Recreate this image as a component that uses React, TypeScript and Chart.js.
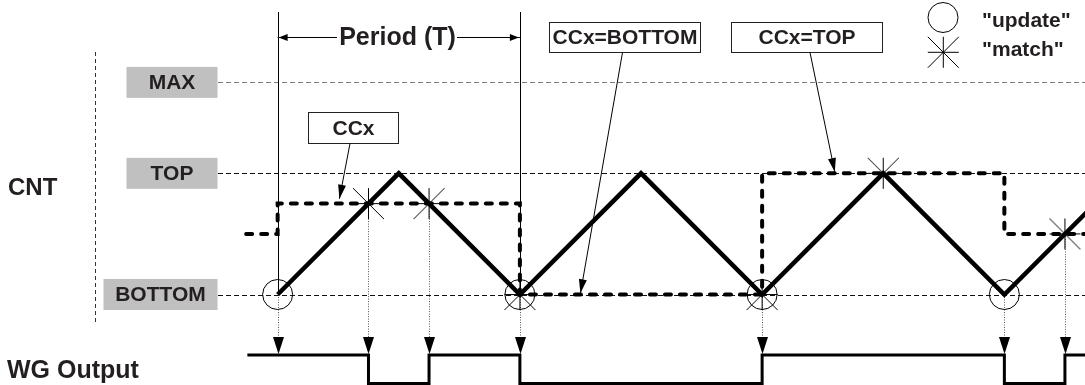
import React, { useEffect, useRef } from "react";
import { Chart, registerables } from "chart.js";

Chart.register(...registerables);

// x axis: time in half-periods (T/2); y axis: counter level (BOTTOM = 0, TOP = 1)
const levelNames = ["MAX", "TOP", "BOTTOM"];
const levelValues = [1.75, 1, 0];

const cntTimes = [0, 1, 2, 3, 4, 5, 6, 7];
const cntValues = [0, 1, 0, 1, 0, 1, 0, 1];

const ccxTimes = [-0.26, 0, 2, 4, 6, 7];
const ccxValues = [0.5, 0.75, 0, 1, 0.5, 0.5];

const updateTimes = [0, 2, 4, 6];
const updateValues = [0, 0, 0, 0];

const matchTimes = [0.75, 1.25, 2, 4, 5, 6.5];
const matchValues = [0.75, 0.75, 0, 0, 1, 0.5];

const wgTimes = [-0.25, 0.75, 1.25, 2, 4, 6, 6.5, 7];
const wgStates = [1, 0, 1, 0, 1, 0, 1, 1];
const wgHigh = -0.5;
const wgLow = -0.734;

const eventTimes = [0, 0.75, 1.25, 2, 4, 6, 6.5];
const eventValues = [0, 0.75, 0.75, 0, 0, 0, 0.5];

const periodStart = 0;
const periodEnd = 2;

const calloutTexts = ["CCx", "CCx=BOTTOM", "CCx=TOP"];
const calloutTipTimes = [0.51, 2.5, 4.6];
const calloutTipValues = [0.79, 0.01, 1.01];

const X_MIN = -2.2922;
const X_MAX = 6.6657;
const Y_MIN = -0.7467;
const Y_MAX = 2.4299;

const TEXT = "#231f20";
const FONT = "'Liberation Sans', Arial, sans-serif";

function makeAsterisk(): HTMLCanvasElement {
  const c = document.createElement("canvas");
  c.width = 33;
  c.height = 33;
  const g = c.getContext("2d")!;
  const m = 16.5;
  const h = 15.5;
  g.strokeStyle = "#000";
  g.lineWidth = 1;
  g.beginPath();
  g.moveTo(m, m - h); g.lineTo(m, m + h);
  g.moveTo(m - h, m); g.lineTo(m + h, m);
  g.moveTo(m - h, m - h); g.lineTo(m + h, m + h);
  g.moveTo(m + h, m - h); g.lineTo(m - h, m + h);
  g.stroke();
  return c;
}

function arrowHead(ctx: CanvasRenderingContext2D, x1: number, y1: number, x2: number, y2: number, len: number, w: number) {
  const a = Math.atan2(y2 - y1, x2 - x1);
  const bx = x2 - Math.cos(a) * len;
  const by = y2 - Math.sin(a) * len;
  const px = -Math.sin(a) * (w / 2);
  const py = Math.cos(a) * (w / 2);
  ctx.beginPath();
  ctx.moveTo(x2, y2);
  ctx.lineTo(bx + px, by + py);
  ctx.lineTo(bx - px, by - py);
  ctx.closePath();
  ctx.fill();
}

const diagramPlugin = {
  id: "diagram",
  beforeDatasetsDraw(chart: any) {
    const ctx: CanvasRenderingContext2D = chart.ctx;
    const xs = chart.scales.x;
    const ys = chart.scales.y;
    const X = (t: number) => xs.getPixelForValue(t);
    const Y = (v: number) => ys.getPixelForValue(v);
    const right = chart.chartArea.right;
    ctx.save();
    // level lines
    levelValues.forEach((v, i) => {
      ctx.strokeStyle = i === 0 ? "#7a7a7a" : "#111";
      ctx.lineWidth = 1;
      ctx.setLineDash([5, 3]);
      ctx.beginPath();
      ctx.moveTo(218, Math.round(Y(v)) + 0.5);
      ctx.lineTo(right, Math.round(Y(v)) + 0.5);
      ctx.stroke();
    });
    // left separator
    ctx.strokeStyle = "#333";
    ctx.setLineDash([4, 3]);
    ctx.beginPath();
    ctx.moveTo(95.5, 52);
    ctx.lineTo(95.5, 324);
    ctx.stroke();
    // period marker lines
    ctx.setLineDash([]);
    ctx.strokeStyle = "#000";
    [periodStart, periodEnd].forEach((t) => {
      const x = Math.round(X(t)) + 0.5;
      ctx.beginPath();
      ctx.moveTo(x, 12);
      ctx.lineTo(x, Y(0));
      ctx.stroke();
    });
    // dotted event arrows to WG output
    eventTimes.forEach((t, i) => {
      const x = Math.round(X(t)) + 0.5;
      const tipY = Y(wgHigh) - 1;
      ctx.strokeStyle = "#555";
      ctx.setLineDash([1, 1.5]);
      ctx.beginPath();
      ctx.moveTo(x, Y(eventValues[i]));
      ctx.lineTo(x, tipY - 16);
      ctx.stroke();
      ctx.setLineDash([]);
      ctx.fillStyle = "#000";
      arrowHead(ctx, x, tipY - 20, x, tipY, 17, 11);
    });
    ctx.restore();
  },
  afterDatasetsDraw(chart: any) {
    const ctx: CanvasRenderingContext2D = chart.ctx;
    const xs = chart.scales.x;
    const ys = chart.scales.y;
    const X = (t: number) => xs.getPixelForValue(t);
    const Y = (v: number) => ys.getPixelForValue(v);
    ctx.save();
    ctx.setLineDash([]);
    ctx.textBaseline = "middle";

    // level label boxes
    const boxW = [91, 91, 114];
    levelNames.forEach((name, i) => {
      const cy = Y(levelValues[i]);
      const w = boxW[i];
      ctx.fillStyle = "#c0c0c0";
      ctx.fillRect(217.5 - w, cy - 15.5, w, 31);
      ctx.fillStyle = TEXT;
      ctx.font = `bold 21px ${FONT}`;
      ctx.textAlign = "center";
      ctx.fillText(name, 217.5 - w / 2, cy + 1);
    });

    // row labels
    ctx.fillStyle = TEXT;
    ctx.textAlign = "left";
    ctx.font = `bold 24px ${FONT}`;
    ctx.fillText("CNT", 8, 188);
    ctx.font = `bold 25px ${FONT}`;
    ctx.fillText("WG Output", 7, 371);

    // period arrow
    const py = 37.5;
    const x0 = X(periodStart);
    const x1 = X(periodEnd);
    ctx.strokeStyle = "#000";
    ctx.fillStyle = "#000";
    ctx.lineWidth = 1;
    ctx.beginPath();
    ctx.moveTo(x0, py); ctx.lineTo(337, py);
    ctx.moveTo(457, py); ctx.lineTo(x1, py);
    ctx.stroke();
    arrowHead(ctx, x0 + 20, py, x0 + 1, py, 9, 7);
    arrowHead(ctx, x1 - 20, py, x1 - 1, py, 9, 7);
    ctx.fillStyle = TEXT;
    ctx.textAlign = "center";
    ctx.font = `bold 25px ${FONT}`;
    ctx.fillText("Period (T)", 397.5, py + 1);

    // callout boxes
    const boxes = [
      { x: 308.5, y: 112.5, w: 90, h: 31, fx: 350, fy: 143.5 },
      { x: 549.5, y: 22.5, w: 151, h: 30, fx: 622.5, fy: 52.5 },
      { x: 731.5, y: 22.5, w: 151, h: 30, fx: 810, fy: 52.5 },
    ];
    boxes.forEach((b, i) => {
      ctx.fillStyle = "#fff";
      ctx.fillRect(b.x, b.y, b.w, b.h);
      ctx.strokeStyle = "#222";
      ctx.lineWidth = 1;
      ctx.strokeRect(b.x, b.y, b.w, b.h);
      ctx.fillStyle = TEXT;
      ctx.font = `bold 21px ${FONT}`;
      ctx.textAlign = "center";
      ctx.fillText(calloutTexts[i], b.x + b.w / 2, b.y + b.h / 2 + 1);
      const tx = X(calloutTipTimes[i]);
      const ty = Y(calloutTipValues[i]);
      ctx.strokeStyle = "#000";
      ctx.beginPath();
      ctx.moveTo(b.fx, b.fy);
      ctx.lineTo(tx, ty);
      ctx.stroke();
      ctx.fillStyle = "#000";
      arrowHead(ctx, b.fx, b.fy, tx, ty, 14, 8);
    });

    // legend
    ctx.strokeStyle = "#000";
    ctx.lineWidth = 1;
    ctx.beginPath();
    ctx.arc(943, 17.5, 15, 0, Math.PI * 2);
    ctx.stroke();
    const sx = 943.3, sy = 52.3, h = 15.5;
    ctx.beginPath();
    ctx.moveTo(sx, sy - h); ctx.lineTo(sx, sy + h);
    ctx.moveTo(sx - h, sy); ctx.lineTo(sx + h, sy);
    ctx.moveTo(sx - h, sy - h); ctx.lineTo(sx + h, sy + h);
    ctx.moveTo(sx + h, sy - h); ctx.lineTo(sx - h, sy + h);
    ctx.stroke();
    ctx.fillStyle = TEXT;
    ctx.textAlign = "left";
    ctx.font = `bold 21px ${FONT}`;
    ctx.fillText('"update"', 982, 21);
    ctx.fillText('"match"', 982, 50);
    ctx.restore();
  },
};

export default function App() {
  const ref = useRef<HTMLCanvasElement | null>(null);
  useEffect(() => {
    if (!ref.current) return;
    const star = makeAsterisk();
    const chart = new Chart(ref.current, {
      type: "scatter",
      data: {
        datasets: [
          {
            label: "update",
            data: updateTimes.map((t, i) => ({ x: t, y: updateValues[i] })),
            showLine: false,
            pointStyle: "circle",
            pointRadius: 15,
            pointBorderWidth: 1,
            pointBorderColor: "#000",
            pointBackgroundColor: "rgba(0,0,0,0)",
            order: 0,
          },
          {
            label: "match",
            data: matchTimes.map((t, i) => ({ x: t, y: matchValues[i] })),
            showLine: false,
            pointStyle: star as any,
            pointRadius: 16,
            order: 1,
          },
          {
            label: "CNT",
            data: cntTimes.map((t, i) => ({ x: t, y: cntValues[i] })),
            showLine: true,
            borderColor: "#000",
            borderWidth: 4.5,
            borderJoinStyle: "miter",
            pointRadius: 0,
            order: 2,
          },
          {
            label: "CCx",
            data: ccxTimes.map((t, i) => ({ x: t, y: ccxValues[i] })),
            showLine: true,
            stepped: "before",
            borderColor: "#000",
            borderWidth: 4,
            borderDash: [6, 9],
            borderCapStyle: "round",
            pointRadius: 0,
            order: 3,
          },
          {
            label: "WG Output",
            data: wgTimes.map((t, i) => ({ x: t, y: wgStates[i] ? wgHigh : wgLow })),
            showLine: true,
            stepped: "before",
            borderColor: "#000",
            borderWidth: 3,
            pointRadius: 0,
            order: 4,
          },
        ],
      },
      options: {
        responsive: false,
        animation: false,
        events: [],
        layout: { padding: 0, autoPadding: false },
        plugins: { legend: { display: false }, tooltip: { enabled: false } },
        scales: {
          x: { type: "linear", min: X_MIN, max: X_MAX, display: false },
          y: { type: "linear", min: Y_MIN, max: Y_MAX, display: false },
        },
      },
      plugins: [diagramPlugin],
    });
    return () => chart.destroy();
  }, []);
  return (
    <div style={{ position: "fixed", left: 0, top: 0, width: 1085, height: 385, background: "#fff" }}>
      <canvas ref={ref} width={1085} height={385} />
    </div>
  );
}
